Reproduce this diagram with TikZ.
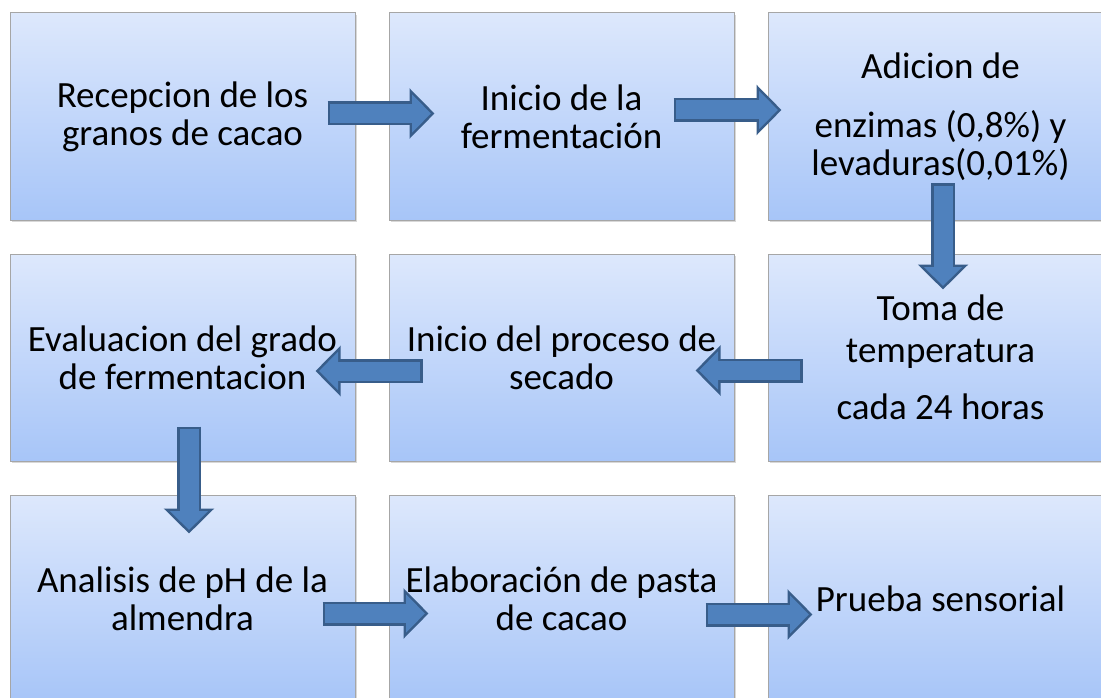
\documentclass[tikz,border=0pt]{standalone}
\usepackage{fontspec}
\setmainfont{Carlito}
\usepackage{xcolor}
\usepackage{tikz}
\usetikzlibrary{arrows.meta, positioning, calc, shadows}

\definecolor{cajaarriba}{HTML}{DDE8FC}
\definecolor{cajaabajo}{HTML}{A7C5F8}
\definecolor{flechaborde}{HTML}{385D8A}
\definecolor{flecharelleno}{HTML}{4F81BD}

\tikzset{
  caja/.style = {rectangle, draw=gray!70, line width=1pt,
    minimum width=345pt, minimum height=207pt,
    top color=cajaarriba, bottom color=cajaabajo,
    align=center, font=\fontsize{37}{38}\selectfont,
    drop shadow={shadow xshift=1.5pt, shadow yshift=-2pt, opacity=0.3}},
  flechafuera/.style = {line width=24pt, color=flechaborde,
    -{Triangle[length=25pt, width=49pt]}},
  flechadentro/.style = {line width=19pt, color=flecharelleno,
    shorten <=2.5pt, shorten >=3.5pt, -{Triangle[length=19pt, width=37pt]}}
}
\newcommand{\flecha}[2]{
  \draw[flechafuera] #1 -- #2;
  \draw[flechadentro] #1 -- #2;
}

\begin{document}
\begin{tikzpicture}[x=1pt, y=-1pt, node distance=33pt and 33pt]
  \useasboundingbox[fill=white] (0,0) rectangle (1101,698);

  % primera fila
  \node[caja] (recep) at (182.5,116.5) {Recepcion de los\\granos de cacao};
  \node[caja, right=of recep] (inicio) {Inicio de la\\fermentación};
  \node[caja, right=of inicio] (adicion) {Adicion de\\[21pt]enzimas (0,8\%) y\\levaduras(0,01\%)};

  % segunda fila
  \node[caja, below=of adicion] (toma) {Toma de\\[4pt]temperatura\\[19pt]cada 24 horas};
  \node[caja, left=of toma] (secado) {Inicio del proceso de\\secado};
  \node[caja, left=of secado] (evalua) {Evaluacion del grado\\de fermentacion};

  % tercera fila
  \node[caja, below=of evalua] (analisis) {Analisis de pH de la\\almendra};
  \node[caja, right=of analisis] (pasta) {Elaboración de pasta\\de cacao};
  \node[caja, right=of pasta] (prueba) {Prueba sensorial};

  % flechas
  \flecha{($(recep.east)+(-28,-3)$)}{($(inicio.west)+(46,-3)$)}
  \flecha{($(inicio.east)+(-61,-6.5)$)}{($(adicion.west)+(14,-6.5)$)}
  \flecha{($(adicion.south)+(2.5,-37)$)}{($(toma.north)+(2.5,36)$)}
  \flecha{($(toma.west)+(35,13)$)}{($(secado.east)+(-39,13)$)}
  \flecha{($(secado.west)+(34,13.5)$)}{($(evalua.east)+(-40,13.5)$)}
  \flecha{($(evalua.south)+(6.5,-35)$)}{($(analisis.north)+(6.5,39)$)}
  \flecha{($(analisis.east)+(-33,15)$)}{($(pasta.west)+(40,15)$)}
  \flecha{($(pasta.east)+(-29,16)$)}{($(prueba.west)+(45,16)$)}
\end{tikzpicture}
\end{document}
